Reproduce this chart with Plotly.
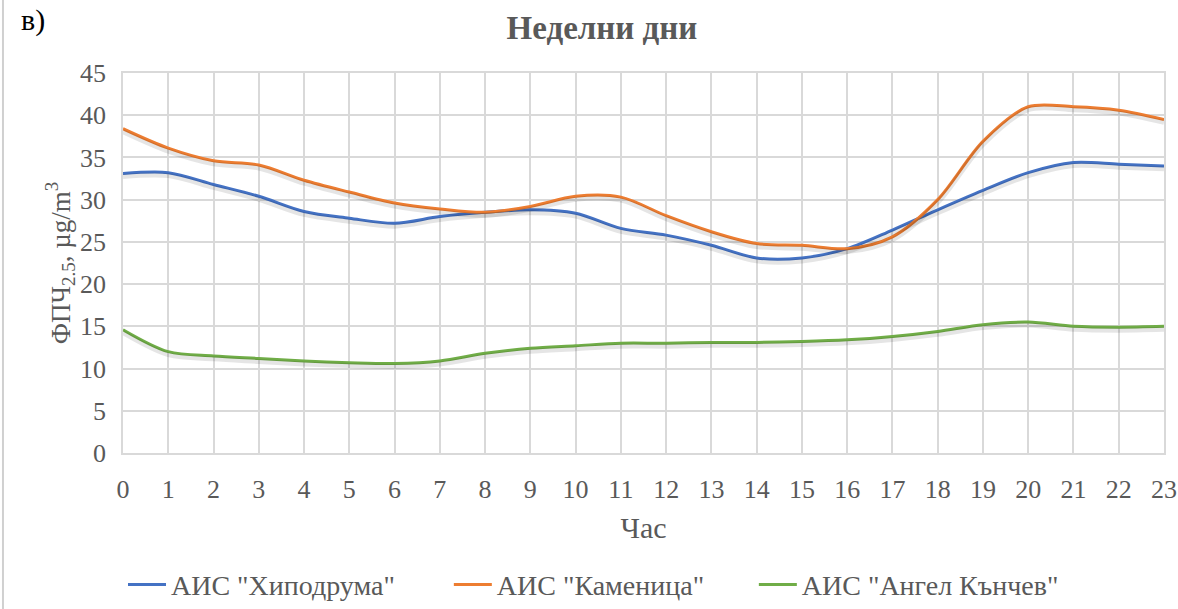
import plotly.graph_objects as go

hours = list(range(24))
hipodruma = [33.1, 33.2, 31.8, 30.4, 28.6, 27.8, 27.2, 28.0, 28.5, 28.8, 28.4, 26.6,
             25.8, 24.6, 23.1, 23.1, 24.2, 26.4, 28.8, 31.1, 33.2, 34.4, 34.2, 34.0]
kamenitsa = [38.4, 36.1, 34.6, 34.1, 32.3, 30.9, 29.6, 28.9, 28.5, 29.2, 30.4, 30.3,
             28.1, 26.2, 24.8, 24.6, 24.2, 25.6, 30.0, 36.9, 41.0, 41.0, 40.6, 39.5]
kanchev = [14.6, 12.0, 11.5, 11.2, 10.9, 10.7, 10.6, 10.9, 11.8, 12.4, 12.7, 13.0,
           13.0, 13.1, 13.1, 13.2, 13.4, 13.8, 14.4, 15.2, 15.5, 15.0, 14.9, 15.0]

series = [
    ('АИС "Хиподрума"', hipodruma, '#4472C4', 'legend', 0.0),
    ('АИС "Каменица"', kamenitsa, '#ED7D31', 'legend2', 0.313),
    ('АИС "Ангел Кънчев"', kanchev, '#70AD47', 'legend3', 0.606),
]

FONT = 'Liberation Serif, Times New Roman, serif'
GRAY = '#595959'

fig = go.Figure()

# сенки под линиите (леко отместени надолу чрез втора ос)
for name, vals, color, lg, lx in series:
    fig.add_trace(go.Scatter(x=hours, y=vals, mode='lines', yaxis='y2',
                             line=dict(color='rgba(0,0,0,0.10)', width=5, shape='spline', smoothing=0.9),
                             showlegend=False, hoverinfo='skip'))

for name, vals, color, lg, lx in series:
    fig.add_trace(go.Scatter(x=hours, y=vals, mode='lines', name=name, legend=lg,
                             line=dict(color=color, width=3, shape='spline', smoothing=0.9)))

legend_style = dict(orientation='h', xanchor='left', y=-0.347, yanchor='middle',
                    font=dict(size=28, color=GRAY), itemwidth=38, bgcolor='rgba(0,0,0,0)')

fig.update_layout(
    width=1178, height=609,
    margin=dict(l=123, r=14, t=73, b=156, autoexpand=False),
    paper_bgcolor='white', plot_bgcolor='white',
    font=dict(family=FONT, color=GRAY, size=26),
    title=dict(text='<b>Неделни дни</b>', x=0.511, xanchor='center', y=0.955, yanchor='middle',
               font=dict(family=FONT, size=33, color=GRAY)),
    xaxis=dict(range=[0, 23], tickmode='array', tickvals=hours, ticktext=[str(h) for h in hours],
               showgrid=True, gridcolor='#d9d9d9', gridwidth=1.5,
               showline=True, linecolor='#d9d9d9', linewidth=1.5, mirror=True,
               zeroline=False, ticks='', ticklabelstandoff=12, automargin=False,
               title=dict(text='Час', standoff=14, font=dict(size=30, color=GRAY))),
    yaxis=dict(range=[0, 45], dtick=5, showgrid=True, gridcolor='#d9d9d9', gridwidth=1.5,
               showline=True, linecolor='#d9d9d9', linewidth=1.5, mirror=True,
               zeroline=False, ticks='', ticklabelstandoff=10, automargin=False,
               title=dict(text='ФПЧ<sub>2.5</sub>, µg/m<sup>3</sup>', standoff=2,
                          font=dict(size=27, color=GRAY))),
    yaxis2=dict(range=[0.35, 45.35], overlaying='y', visible=False),
    legend=dict(x=series[0][4], **legend_style),
    legend2=dict(x=series[1][4], **legend_style),
    legend3=dict(x=series[2][4], **legend_style),
    showlegend=True,
)

fig.add_annotation(text='в)', xref='paper', yref='paper', x=-0.1, y=1.14,
                   xanchor='left', yanchor='middle', showarrow=False,
                   font=dict(family=FONT, size=30, color='black'))

fig.add_shape(type='line', xref='paper', yref='paper', x0=-0.1153, x1=-0.1153, y0=-0.43, y1=1.2,
              line=dict(color='#d0d0d0', width=2))

fig.write_html("out.html", config={'displayModeBar': False},
               post_script="document.body.style.margin='0';")
